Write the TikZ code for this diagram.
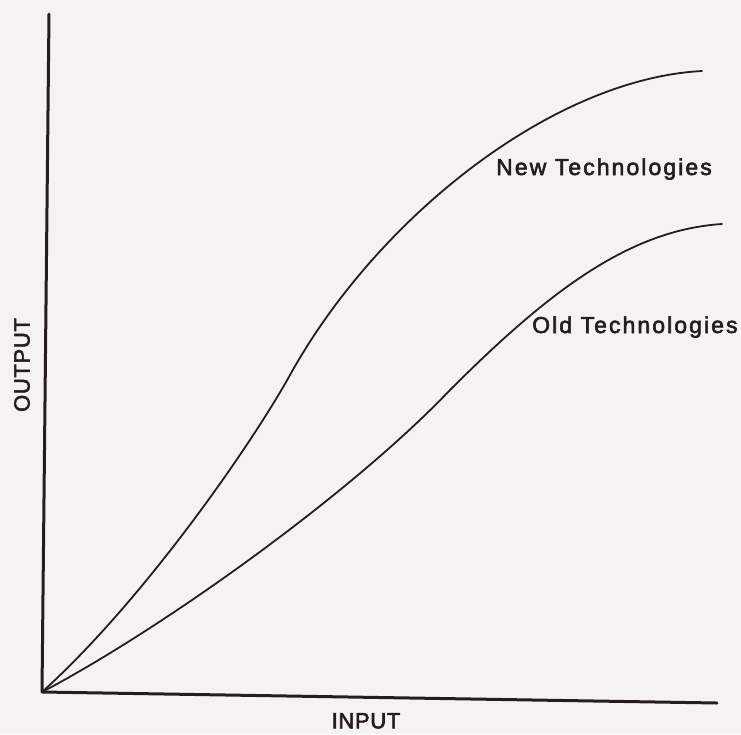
\documentclass[tikz,border=0pt]{standalone}
\usepackage{fontspec}
\setmainfont{Liberation Sans}
\newfontfamily\lblfont[LetterSpace=9,FakeBold=2.5]{Liberation Sans}
\newfontfamily\axfont[LetterSpace=3,FakeBold=2.5]{Liberation Sans}
\definecolor{paper}{RGB}{246,242,242}
\definecolor{ink}{RGB}{38,28,32}
\begin{document}
\begin{tikzpicture}[x=1pt,y=-1pt,
  axisline/.style={draw=ink,line width=3pt,line cap=round,line join=round},
  curveline/.style={draw=ink,line width=1.8pt,line cap=round},
  curvelabel/.style={text=ink,font=\lblfont\fontsize{23}{26}\selectfont,inner sep=0pt,anchor=base west},
  axislabel/.style={text=ink,font=\axfont\fontsize{22}{26}\selectfont,inner sep=0pt}]
\fill[paper] (0,0) rectangle (741,734);
\useasboundingbox (0,0) rectangle (741,734);
\coordinate (origin) at (42,692);
\coordinate (ytop) at (49,14);
\coordinate (xend) at (717,703);
\coordinate (newmid) at (290,375);
\coordinate (newend) at (702,71);
\coordinate (oldmid) at (450,390);
\coordinate (oldend) at (722,224);
\draw[axisline] (ytop) -- (origin) -- (xend);
\draw[curveline] (origin) .. controls (142,602) and (250,447) .. (newmid)
  .. controls (377,218) and (552,79) .. (newend);
\draw[curveline] (origin) .. controls (160,630) and (350,495) .. (oldmid)
  .. controls (550,290) and (630,230) .. (oldend);
\node[curvelabel] (newlbl) at (496,175) {New Technologies};
\node[curvelabel] (oldlbl) at (532,333) {Old Technologies};
\node[axislabel,anchor=north] (inlbl) at (366,713) {INPUT};
\node[axislabel,rotate=90] (outlbl) at (22,365) {OUTPUT};
\end{tikzpicture}
\end{document}
